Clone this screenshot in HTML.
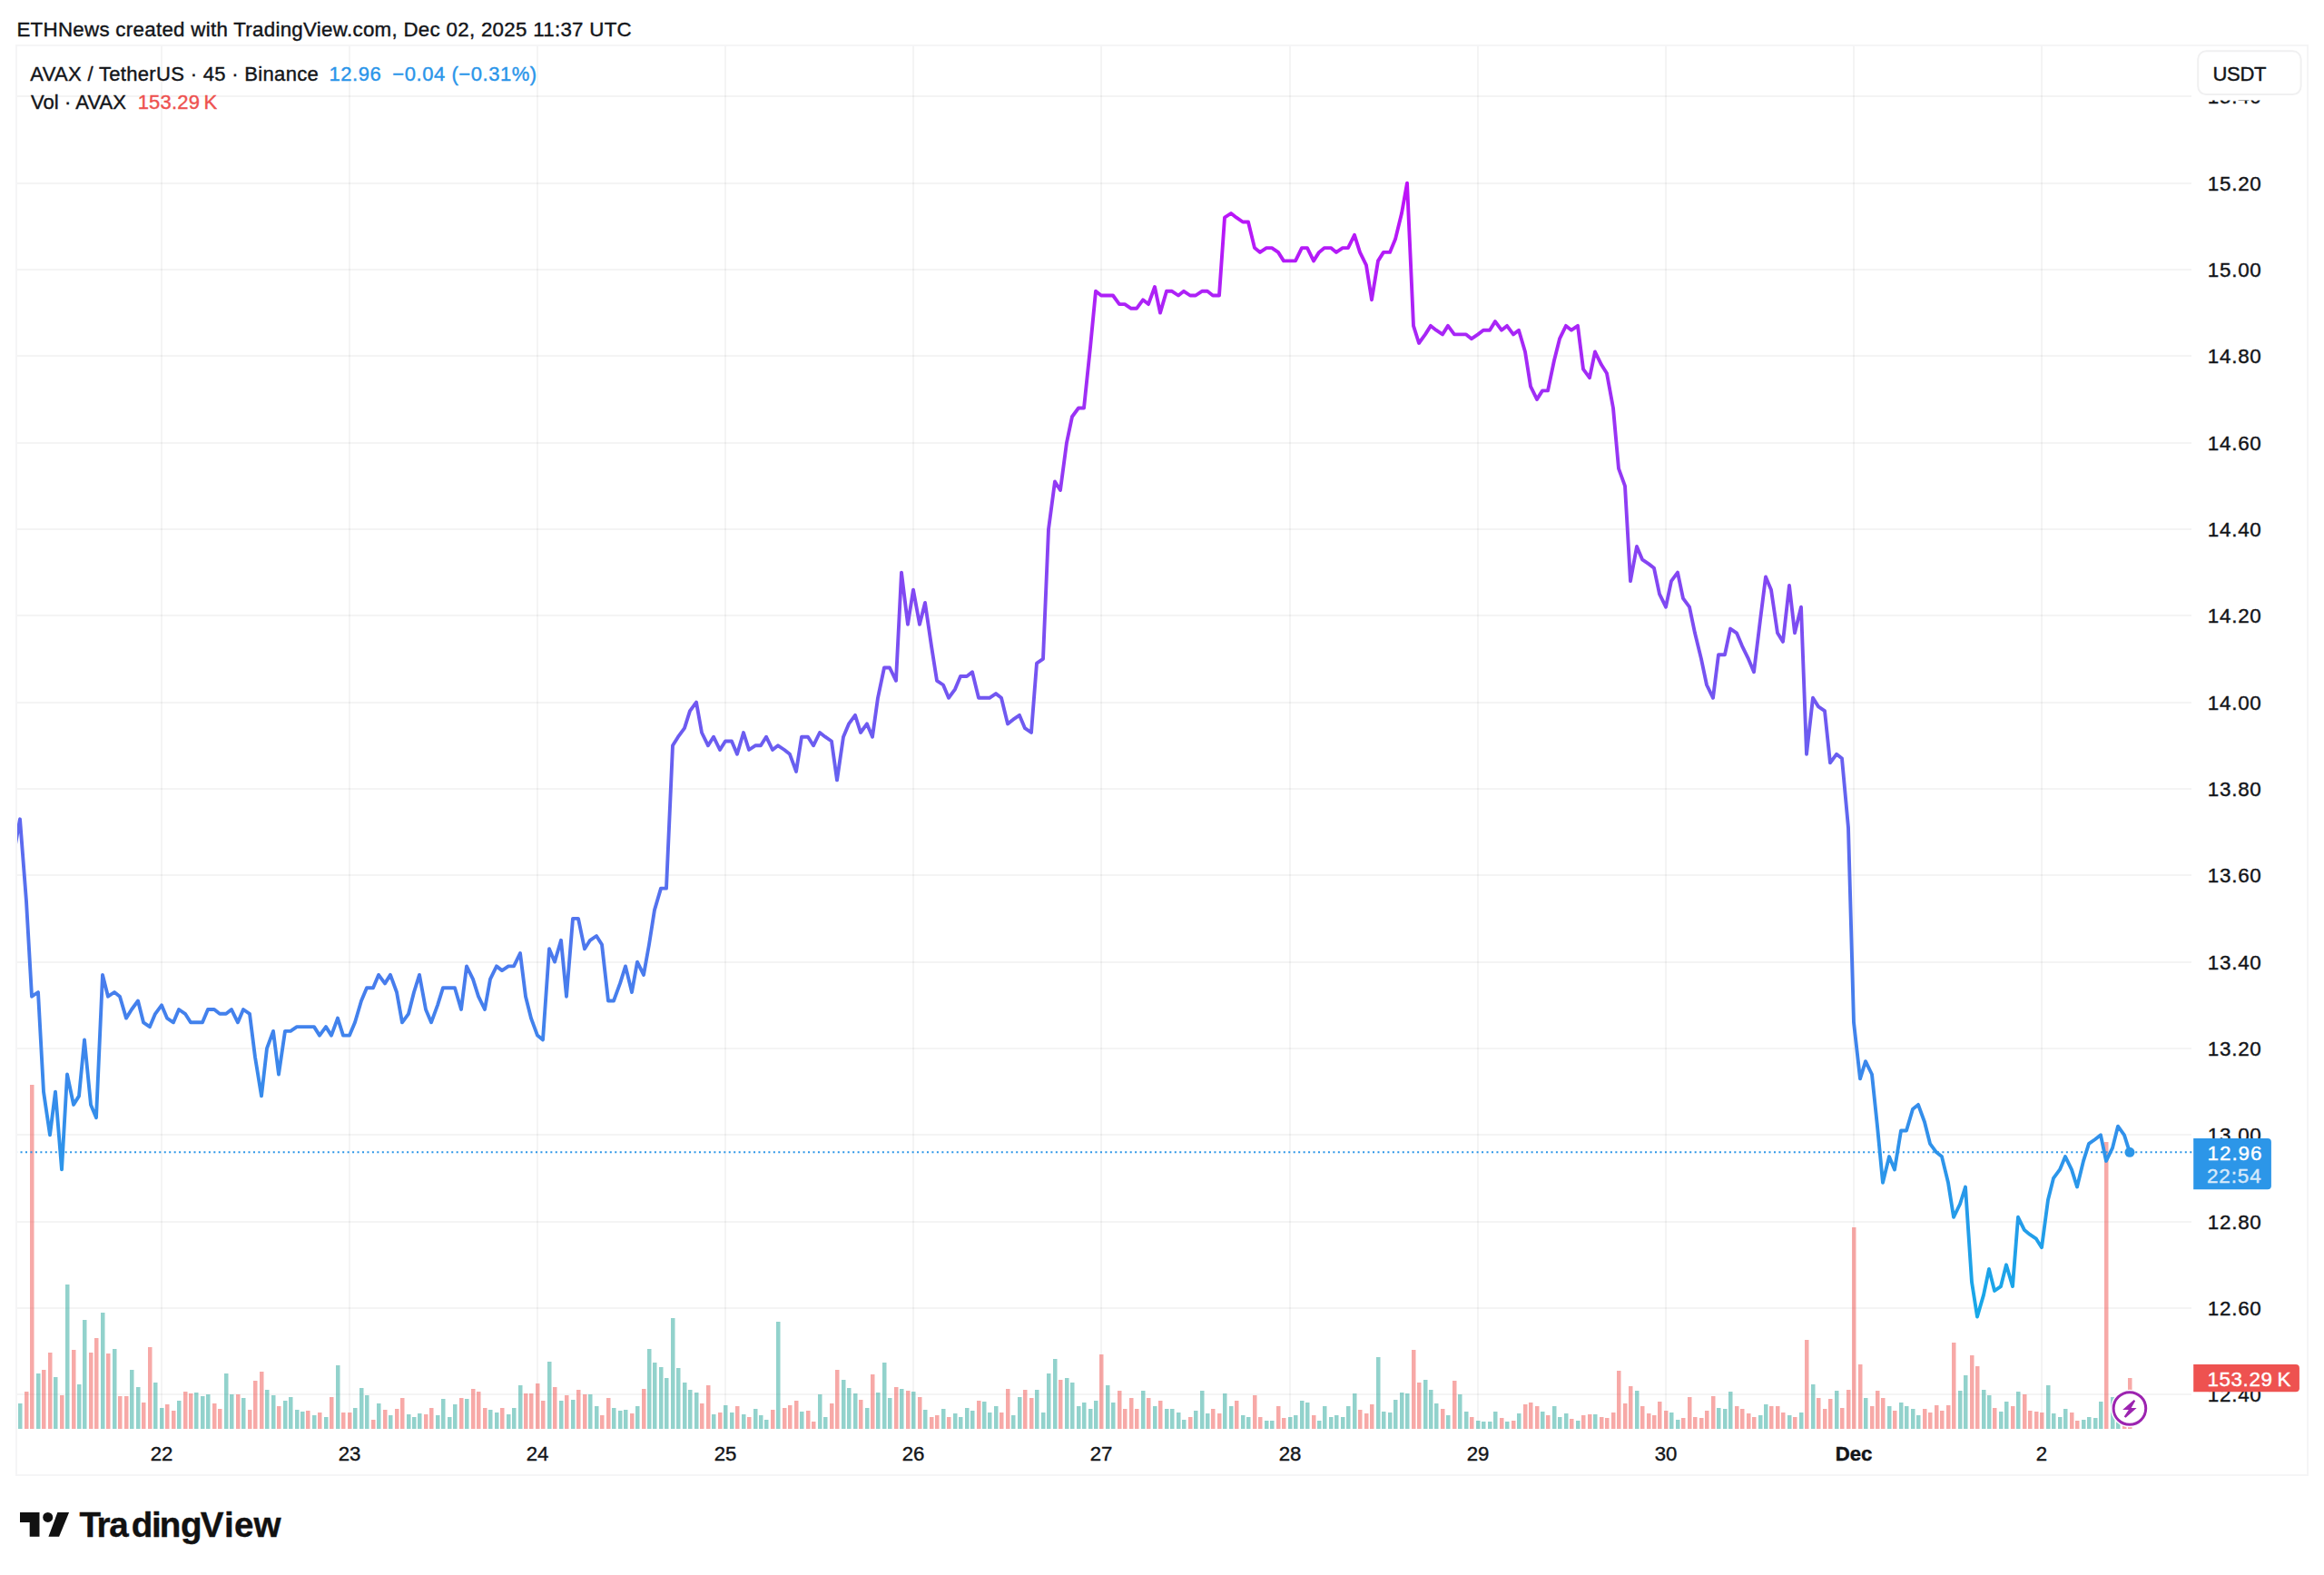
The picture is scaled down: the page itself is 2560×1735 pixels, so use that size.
<!DOCTYPE html>
<html lang="en"><head><meta charset="utf-8"><title>AVAX / TetherUS chart</title>
<style>html,body{margin:0;padding:0;background:#fff;}body{width:2560px;height:1735px;overflow:hidden;position:relative;}svg{position:absolute;left:0;top:0;display:block}text{font-family:"Liberation Sans", sans-serif;}</style>
</head><body>
<svg width="2560" height="1735" viewBox="0 0 2560 1735">
<defs>
<linearGradient id="lg" gradientUnits="userSpaceOnUse" x1="0" y1="201.6" x2="0" y2="1450.5"><stop offset="0" stop-color="#be12f8"/><stop offset="1" stop-color="#16a9e8"/></linearGradient>
<clipPath id="pane"><rect x="19" y="51" width="2395" height="1523.0"/></clipPath>
</defs>
<rect x="0" y="0" width="2560" height="1735" fill="#ffffff"/>
<g stroke="#000" stroke-opacity="0.043" stroke-width="2" shape-rendering="crispEdges">
<line x1="178" y1="51" x2="178" y2="1574"/>
<line x1="385" y1="51" x2="385" y2="1574"/>
<line x1="592" y1="51" x2="592" y2="1574"/>
<line x1="799" y1="51" x2="799" y2="1574"/>
<line x1="1006" y1="51" x2="1006" y2="1574"/>
<line x1="1213" y1="51" x2="1213" y2="1574"/>
<line x1="1421" y1="51" x2="1421" y2="1574"/>
<line x1="1628" y1="51" x2="1628" y2="1574"/>
<line x1="1835" y1="51" x2="1835" y2="1574"/>
<line x1="2042" y1="51" x2="2042" y2="1574"/>
<line x1="2249" y1="51" x2="2249" y2="1574"/>
<line x1="19" y1="106" x2="2414" y2="106"/>
<line x1="19" y1="202" x2="2414" y2="202"/>
<line x1="19" y1="297" x2="2414" y2="297"/>
<line x1="19" y1="392" x2="2414" y2="392"/>
<line x1="19" y1="488" x2="2414" y2="488"/>
<line x1="19" y1="583" x2="2414" y2="583"/>
<line x1="19" y1="678" x2="2414" y2="678"/>
<line x1="19" y1="774" x2="2414" y2="774"/>
<line x1="19" y1="869" x2="2414" y2="869"/>
<line x1="19" y1="964" x2="2414" y2="964"/>
<line x1="19" y1="1060" x2="2414" y2="1060"/>
<line x1="19" y1="1155" x2="2414" y2="1155"/>
<line x1="19" y1="1250" x2="2414" y2="1250"/>
<line x1="19" y1="1346" x2="2414" y2="1346"/>
<line x1="19" y1="1441" x2="2414" y2="1441"/>
<line x1="19" y1="1536" x2="2414" y2="1536"/>
</g>
<g clip-path="url(#pane)">
<rect x="20" y="1546.0" width="4.5" height="28.0" fill="rgba(38,166,154,0.5)"/>
<rect x="27" y="1533.0" width="4.5" height="41.0" fill="rgba(239,83,80,0.5)"/>
<rect x="33" y="1195.0" width="4.5" height="379.0" fill="rgba(239,83,80,0.5)"/>
<rect x="40" y="1513.0" width="4.5" height="61.0" fill="rgba(38,166,154,0.5)"/>
<rect x="46" y="1509.0" width="4.5" height="65.0" fill="rgba(239,83,80,0.5)"/>
<rect x="53" y="1490.0" width="4.5" height="84.0" fill="rgba(239,83,80,0.5)"/>
<rect x="59" y="1517.0" width="4.5" height="57.0" fill="rgba(38,166,154,0.5)"/>
<rect x="66" y="1537.0" width="4.5" height="37.0" fill="rgba(239,83,80,0.5)"/>
<rect x="72" y="1415.0" width="4.5" height="159.0" fill="rgba(38,166,154,0.5)"/>
<rect x="79" y="1487.0" width="4.5" height="87.0" fill="rgba(239,83,80,0.5)"/>
<rect x="85" y="1525.0" width="4.5" height="49.0" fill="rgba(38,166,154,0.5)"/>
<rect x="91" y="1454.0" width="4.5" height="120.0" fill="rgba(38,166,154,0.5)"/>
<rect x="98" y="1490.0" width="4.5" height="84.0" fill="rgba(239,83,80,0.5)"/>
<rect x="104" y="1474.0" width="4.5" height="100.0" fill="rgba(239,83,80,0.5)"/>
<rect x="111" y="1446.0" width="4.5" height="128.0" fill="rgba(38,166,154,0.5)"/>
<rect x="117" y="1491.0" width="4.5" height="83.0" fill="rgba(239,83,80,0.5)"/>
<rect x="124" y="1486.0" width="4.5" height="88.0" fill="rgba(38,166,154,0.5)"/>
<rect x="130" y="1538.0" width="4.5" height="36.0" fill="rgba(239,83,80,0.5)"/>
<rect x="137" y="1538.0" width="4.5" height="36.0" fill="rgba(239,83,80,0.5)"/>
<rect x="143" y="1509.0" width="4.5" height="65.0" fill="rgba(38,166,154,0.5)"/>
<rect x="150" y="1528.0" width="4.5" height="46.0" fill="rgba(38,166,154,0.5)"/>
<rect x="156" y="1545.0" width="4.5" height="29.0" fill="rgba(239,83,80,0.5)"/>
<rect x="163" y="1484.0" width="4.5" height="90.0" fill="rgba(239,83,80,0.5)"/>
<rect x="169" y="1523.0" width="4.5" height="51.0" fill="rgba(38,166,154,0.5)"/>
<rect x="176" y="1551.0" width="4.5" height="23.0" fill="rgba(38,166,154,0.5)"/>
<rect x="182" y="1547.0" width="4.5" height="27.0" fill="rgba(239,83,80,0.5)"/>
<rect x="189" y="1554.0" width="4.5" height="20.0" fill="rgba(239,83,80,0.5)"/>
<rect x="195" y="1543.0" width="4.5" height="31.0" fill="rgba(38,166,154,0.5)"/>
<rect x="202" y="1533.0" width="4.5" height="41.0" fill="rgba(239,83,80,0.5)"/>
<rect x="208" y="1535.0" width="4.5" height="39.0" fill="rgba(239,83,80,0.5)"/>
<rect x="214" y="1534.0" width="4.5" height="40.0" fill="rgba(38,166,154,0.5)"/>
<rect x="221" y="1538.0" width="4.5" height="36.0" fill="rgba(38,166,154,0.5)"/>
<rect x="227" y="1536.0" width="4.5" height="38.0" fill="rgba(38,166,154,0.5)"/>
<rect x="234" y="1546.0" width="4.5" height="28.0" fill="rgba(239,83,80,0.5)"/>
<rect x="240" y="1552.0" width="4.5" height="22.0" fill="rgba(239,83,80,0.5)"/>
<rect x="247" y="1513.0" width="4.5" height="61.0" fill="rgba(38,166,154,0.5)"/>
<rect x="253" y="1536.0" width="4.5" height="38.0" fill="rgba(38,166,154,0.5)"/>
<rect x="260" y="1536.0" width="4.5" height="38.0" fill="rgba(239,83,80,0.5)"/>
<rect x="266" y="1540.0" width="4.5" height="34.0" fill="rgba(38,166,154,0.5)"/>
<rect x="273" y="1553.0" width="4.5" height="21.0" fill="rgba(239,83,80,0.5)"/>
<rect x="279" y="1521.0" width="4.5" height="53.0" fill="rgba(239,83,80,0.5)"/>
<rect x="286" y="1511.0" width="4.5" height="63.0" fill="rgba(239,83,80,0.5)"/>
<rect x="292" y="1531.0" width="4.5" height="43.0" fill="rgba(38,166,154,0.5)"/>
<rect x="299" y="1537.0" width="4.5" height="37.0" fill="rgba(38,166,154,0.5)"/>
<rect x="305" y="1549.0" width="4.5" height="25.0" fill="rgba(239,83,80,0.5)"/>
<rect x="312" y="1543.0" width="4.5" height="31.0" fill="rgba(38,166,154,0.5)"/>
<rect x="318" y="1539.0" width="4.5" height="35.0" fill="rgba(38,166,154,0.5)"/>
<rect x="325" y="1553.0" width="4.5" height="21.0" fill="rgba(38,166,154,0.5)"/>
<rect x="331" y="1555.0" width="4.5" height="19.0" fill="rgba(38,166,154,0.5)"/>
<rect x="337" y="1554.0" width="4.5" height="20.0" fill="rgba(239,83,80,0.5)"/>
<rect x="344" y="1559.0" width="4.5" height="15.0" fill="rgba(38,166,154,0.5)"/>
<rect x="350" y="1556.0" width="4.5" height="18.0" fill="rgba(239,83,80,0.5)"/>
<rect x="357" y="1561.0" width="4.5" height="13.0" fill="rgba(38,166,154,0.5)"/>
<rect x="363" y="1539.0" width="4.5" height="35.0" fill="rgba(239,83,80,0.5)"/>
<rect x="370" y="1504.0" width="4.5" height="70.0" fill="rgba(38,166,154,0.5)"/>
<rect x="376" y="1556.0" width="4.5" height="18.0" fill="rgba(239,83,80,0.5)"/>
<rect x="383" y="1556.0" width="4.5" height="18.0" fill="rgba(239,83,80,0.5)"/>
<rect x="389" y="1551.0" width="4.5" height="23.0" fill="rgba(38,166,154,0.5)"/>
<rect x="396" y="1529.0" width="4.5" height="45.0" fill="rgba(38,166,154,0.5)"/>
<rect x="402" y="1537.0" width="4.5" height="37.0" fill="rgba(38,166,154,0.5)"/>
<rect x="409" y="1564.0" width="4.5" height="10.0" fill="rgba(239,83,80,0.5)"/>
<rect x="415" y="1546.0" width="4.5" height="28.0" fill="rgba(38,166,154,0.5)"/>
<rect x="422" y="1553.0" width="4.5" height="21.0" fill="rgba(239,83,80,0.5)"/>
<rect x="428" y="1559.0" width="4.5" height="15.0" fill="rgba(38,166,154,0.5)"/>
<rect x="435" y="1552.0" width="4.5" height="22.0" fill="rgba(239,83,80,0.5)"/>
<rect x="441" y="1540.0" width="4.5" height="34.0" fill="rgba(239,83,80,0.5)"/>
<rect x="448" y="1558.0" width="4.5" height="16.0" fill="rgba(38,166,154,0.5)"/>
<rect x="454" y="1561.0" width="4.5" height="13.0" fill="rgba(38,166,154,0.5)"/>
<rect x="460" y="1557.0" width="4.5" height="17.0" fill="rgba(38,166,154,0.5)"/>
<rect x="467" y="1558.0" width="4.5" height="16.0" fill="rgba(239,83,80,0.5)"/>
<rect x="473" y="1551.0" width="4.5" height="23.0" fill="rgba(239,83,80,0.5)"/>
<rect x="480" y="1559.0" width="4.5" height="15.0" fill="rgba(38,166,154,0.5)"/>
<rect x="486" y="1541.0" width="4.5" height="33.0" fill="rgba(38,166,154,0.5)"/>
<rect x="493" y="1561.0" width="4.5" height="13.0" fill="rgba(38,166,154,0.5)"/>
<rect x="499" y="1547.0" width="4.5" height="27.0" fill="rgba(38,166,154,0.5)"/>
<rect x="506" y="1540.0" width="4.5" height="34.0" fill="rgba(239,83,80,0.5)"/>
<rect x="512" y="1541.0" width="4.5" height="33.0" fill="rgba(38,166,154,0.5)"/>
<rect x="519" y="1530.0" width="4.5" height="44.0" fill="rgba(239,83,80,0.5)"/>
<rect x="525" y="1533.0" width="4.5" height="41.0" fill="rgba(239,83,80,0.5)"/>
<rect x="532" y="1551.0" width="4.5" height="23.0" fill="rgba(239,83,80,0.5)"/>
<rect x="538" y="1553.0" width="4.5" height="21.0" fill="rgba(38,166,154,0.5)"/>
<rect x="545" y="1556.0" width="4.5" height="18.0" fill="rgba(38,166,154,0.5)"/>
<rect x="551" y="1551.0" width="4.5" height="23.0" fill="rgba(239,83,80,0.5)"/>
<rect x="558" y="1558.0" width="4.5" height="16.0" fill="rgba(38,166,154,0.5)"/>
<rect x="564" y="1551.0" width="4.5" height="23.0" fill="rgba(38,166,154,0.5)"/>
<rect x="571" y="1526.0" width="4.5" height="48.0" fill="rgba(38,166,154,0.5)"/>
<rect x="577" y="1535.0" width="4.5" height="39.0" fill="rgba(239,83,80,0.5)"/>
<rect x="583" y="1535.0" width="4.5" height="39.0" fill="rgba(239,83,80,0.5)"/>
<rect x="590" y="1524.0" width="4.5" height="50.0" fill="rgba(239,83,80,0.5)"/>
<rect x="596" y="1543.0" width="4.5" height="31.0" fill="rgba(239,83,80,0.5)"/>
<rect x="603" y="1500.0" width="4.5" height="74.0" fill="rgba(38,166,154,0.5)"/>
<rect x="609" y="1528.0" width="4.5" height="46.0" fill="rgba(239,83,80,0.5)"/>
<rect x="616" y="1543.0" width="4.5" height="31.0" fill="rgba(38,166,154,0.5)"/>
<rect x="622" y="1537.0" width="4.5" height="37.0" fill="rgba(239,83,80,0.5)"/>
<rect x="629" y="1542.0" width="4.5" height="32.0" fill="rgba(38,166,154,0.5)"/>
<rect x="635" y="1531.0" width="4.5" height="43.0" fill="rgba(239,83,80,0.5)"/>
<rect x="642" y="1536.0" width="4.5" height="38.0" fill="rgba(239,83,80,0.5)"/>
<rect x="648" y="1536.0" width="4.5" height="38.0" fill="rgba(38,166,154,0.5)"/>
<rect x="655" y="1549.0" width="4.5" height="25.0" fill="rgba(38,166,154,0.5)"/>
<rect x="661" y="1559.0" width="4.5" height="15.0" fill="rgba(239,83,80,0.5)"/>
<rect x="668" y="1540.0" width="4.5" height="34.0" fill="rgba(239,83,80,0.5)"/>
<rect x="674" y="1551.0" width="4.5" height="23.0" fill="rgba(38,166,154,0.5)"/>
<rect x="681" y="1554.0" width="4.5" height="20.0" fill="rgba(38,166,154,0.5)"/>
<rect x="687" y="1553.0" width="4.5" height="21.0" fill="rgba(38,166,154,0.5)"/>
<rect x="694" y="1557.0" width="4.5" height="17.0" fill="rgba(239,83,80,0.5)"/>
<rect x="700" y="1549.0" width="4.5" height="25.0" fill="rgba(38,166,154,0.5)"/>
<rect x="707" y="1530.0" width="4.5" height="44.0" fill="rgba(239,83,80,0.5)"/>
<rect x="713" y="1486.0" width="4.5" height="88.0" fill="rgba(38,166,154,0.5)"/>
<rect x="719" y="1501.0" width="4.5" height="73.0" fill="rgba(38,166,154,0.5)"/>
<rect x="726" y="1506.0" width="4.5" height="68.0" fill="rgba(38,166,154,0.5)"/>
<rect x="732" y="1518.0" width="4.5" height="56.0" fill="rgba(38,166,154,0.5)"/>
<rect x="739" y="1452.0" width="4.5" height="122.0" fill="rgba(38,166,154,0.5)"/>
<rect x="745" y="1507.0" width="4.5" height="67.0" fill="rgba(38,166,154,0.5)"/>
<rect x="752" y="1523.0" width="4.5" height="51.0" fill="rgba(38,166,154,0.5)"/>
<rect x="758" y="1531.0" width="4.5" height="43.0" fill="rgba(38,166,154,0.5)"/>
<rect x="765" y="1534.0" width="4.5" height="40.0" fill="rgba(38,166,154,0.5)"/>
<rect x="771" y="1546.0" width="4.5" height="28.0" fill="rgba(239,83,80,0.5)"/>
<rect x="778" y="1526.0" width="4.5" height="48.0" fill="rgba(239,83,80,0.5)"/>
<rect x="784" y="1558.0" width="4.5" height="16.0" fill="rgba(38,166,154,0.5)"/>
<rect x="791" y="1556.0" width="4.5" height="18.0" fill="rgba(239,83,80,0.5)"/>
<rect x="797" y="1548.0" width="4.5" height="26.0" fill="rgba(38,166,154,0.5)"/>
<rect x="804" y="1556.0" width="4.5" height="18.0" fill="rgba(38,166,154,0.5)"/>
<rect x="810" y="1549.0" width="4.5" height="25.0" fill="rgba(239,83,80,0.5)"/>
<rect x="817" y="1558.0" width="4.5" height="16.0" fill="rgba(38,166,154,0.5)"/>
<rect x="823" y="1561.0" width="4.5" height="13.0" fill="rgba(239,83,80,0.5)"/>
<rect x="830" y="1552.0" width="4.5" height="22.0" fill="rgba(38,166,154,0.5)"/>
<rect x="836" y="1559.0" width="4.5" height="15.0" fill="rgba(38,166,154,0.5)"/>
<rect x="842" y="1564.0" width="4.5" height="10.0" fill="rgba(38,166,154,0.5)"/>
<rect x="849" y="1553.0" width="4.5" height="21.0" fill="rgba(239,83,80,0.5)"/>
<rect x="855" y="1456.0" width="4.5" height="118.0" fill="rgba(38,166,154,0.5)"/>
<rect x="862" y="1551.0" width="4.5" height="23.0" fill="rgba(239,83,80,0.5)"/>
<rect x="868" y="1548.0" width="4.5" height="26.0" fill="rgba(239,83,80,0.5)"/>
<rect x="875" y="1543.0" width="4.5" height="31.0" fill="rgba(239,83,80,0.5)"/>
<rect x="881" y="1555.0" width="4.5" height="19.0" fill="rgba(38,166,154,0.5)"/>
<rect x="888" y="1554.0" width="4.5" height="20.0" fill="rgba(239,83,80,0.5)"/>
<rect x="894" y="1566.0" width="4.5" height="8.0" fill="rgba(239,83,80,0.5)"/>
<rect x="901" y="1536.0" width="4.5" height="38.0" fill="rgba(38,166,154,0.5)"/>
<rect x="907" y="1561.0" width="4.5" height="13.0" fill="rgba(38,166,154,0.5)"/>
<rect x="914" y="1546.0" width="4.5" height="28.0" fill="rgba(239,83,80,0.5)"/>
<rect x="920" y="1509.0" width="4.5" height="65.0" fill="rgba(239,83,80,0.5)"/>
<rect x="927" y="1520.0" width="4.5" height="54.0" fill="rgba(38,166,154,0.5)"/>
<rect x="933" y="1529.0" width="4.5" height="45.0" fill="rgba(38,166,154,0.5)"/>
<rect x="940" y="1535.0" width="4.5" height="39.0" fill="rgba(38,166,154,0.5)"/>
<rect x="946" y="1542.0" width="4.5" height="32.0" fill="rgba(239,83,80,0.5)"/>
<rect x="953" y="1551.0" width="4.5" height="23.0" fill="rgba(38,166,154,0.5)"/>
<rect x="959" y="1514.0" width="4.5" height="60.0" fill="rgba(239,83,80,0.5)"/>
<rect x="965" y="1534.0" width="4.5" height="40.0" fill="rgba(38,166,154,0.5)"/>
<rect x="972" y="1501.0" width="4.5" height="73.0" fill="rgba(38,166,154,0.5)"/>
<rect x="978" y="1540.0" width="4.5" height="34.0" fill="rgba(38,166,154,0.5)"/>
<rect x="985" y="1528.0" width="4.5" height="46.0" fill="rgba(239,83,80,0.5)"/>
<rect x="991" y="1530.0" width="4.5" height="44.0" fill="rgba(38,166,154,0.5)"/>
<rect x="998" y="1532.0" width="4.5" height="42.0" fill="rgba(239,83,80,0.5)"/>
<rect x="1004" y="1533.0" width="4.5" height="41.0" fill="rgba(38,166,154,0.5)"/>
<rect x="1011" y="1539.0" width="4.5" height="35.0" fill="rgba(239,83,80,0.5)"/>
<rect x="1017" y="1553.0" width="4.5" height="21.0" fill="rgba(38,166,154,0.5)"/>
<rect x="1024" y="1561.0" width="4.5" height="13.0" fill="rgba(239,83,80,0.5)"/>
<rect x="1030" y="1559.0" width="4.5" height="15.0" fill="rgba(239,83,80,0.5)"/>
<rect x="1037" y="1552.0" width="4.5" height="22.0" fill="rgba(38,166,154,0.5)"/>
<rect x="1043" y="1561.0" width="4.5" height="13.0" fill="rgba(239,83,80,0.5)"/>
<rect x="1050" y="1557.0" width="4.5" height="17.0" fill="rgba(38,166,154,0.5)"/>
<rect x="1056" y="1561.0" width="4.5" height="13.0" fill="rgba(38,166,154,0.5)"/>
<rect x="1063" y="1551.0" width="4.5" height="23.0" fill="rgba(38,166,154,0.5)"/>
<rect x="1069" y="1554.0" width="4.5" height="20.0" fill="rgba(38,166,154,0.5)"/>
<rect x="1076" y="1543.0" width="4.5" height="31.0" fill="rgba(239,83,80,0.5)"/>
<rect x="1082" y="1544.0" width="4.5" height="30.0" fill="rgba(38,166,154,0.5)"/>
<rect x="1088" y="1556.0" width="4.5" height="18.0" fill="rgba(38,166,154,0.5)"/>
<rect x="1095" y="1549.0" width="4.5" height="25.0" fill="rgba(38,166,154,0.5)"/>
<rect x="1101" y="1556.0" width="4.5" height="18.0" fill="rgba(239,83,80,0.5)"/>
<rect x="1108" y="1530.0" width="4.5" height="44.0" fill="rgba(239,83,80,0.5)"/>
<rect x="1114" y="1559.0" width="4.5" height="15.0" fill="rgba(38,166,154,0.5)"/>
<rect x="1121" y="1539.0" width="4.5" height="35.0" fill="rgba(38,166,154,0.5)"/>
<rect x="1127" y="1531.0" width="4.5" height="43.0" fill="rgba(239,83,80,0.5)"/>
<rect x="1134" y="1540.0" width="4.5" height="34.0" fill="rgba(239,83,80,0.5)"/>
<rect x="1140" y="1531.0" width="4.5" height="43.0" fill="rgba(38,166,154,0.5)"/>
<rect x="1147" y="1556.0" width="4.5" height="18.0" fill="rgba(38,166,154,0.5)"/>
<rect x="1153" y="1513.0" width="4.5" height="61.0" fill="rgba(38,166,154,0.5)"/>
<rect x="1160" y="1497.0" width="4.5" height="77.0" fill="rgba(38,166,154,0.5)"/>
<rect x="1166" y="1520.0" width="4.5" height="54.0" fill="rgba(239,83,80,0.5)"/>
<rect x="1173" y="1518.0" width="4.5" height="56.0" fill="rgba(38,166,154,0.5)"/>
<rect x="1179" y="1523.0" width="4.5" height="51.0" fill="rgba(38,166,154,0.5)"/>
<rect x="1186" y="1549.0" width="4.5" height="25.0" fill="rgba(38,166,154,0.5)"/>
<rect x="1192" y="1545.0" width="4.5" height="29.0" fill="rgba(38,166,154,0.5)"/>
<rect x="1199" y="1552.0" width="4.5" height="22.0" fill="rgba(38,166,154,0.5)"/>
<rect x="1205" y="1543.0" width="4.5" height="31.0" fill="rgba(38,166,154,0.5)"/>
<rect x="1211" y="1492.0" width="4.5" height="82.0" fill="rgba(239,83,80,0.5)"/>
<rect x="1218" y="1526.0" width="4.5" height="48.0" fill="rgba(38,166,154,0.5)"/>
<rect x="1224" y="1545.0" width="4.5" height="29.0" fill="rgba(38,166,154,0.5)"/>
<rect x="1231" y="1532.0" width="4.5" height="42.0" fill="rgba(239,83,80,0.5)"/>
<rect x="1237" y="1552.0" width="4.5" height="22.0" fill="rgba(239,83,80,0.5)"/>
<rect x="1244" y="1540.0" width="4.5" height="34.0" fill="rgba(239,83,80,0.5)"/>
<rect x="1250" y="1552.0" width="4.5" height="22.0" fill="rgba(239,83,80,0.5)"/>
<rect x="1257" y="1532.0" width="4.5" height="42.0" fill="rgba(38,166,154,0.5)"/>
<rect x="1263" y="1540.0" width="4.5" height="34.0" fill="rgba(239,83,80,0.5)"/>
<rect x="1270" y="1549.0" width="4.5" height="25.0" fill="rgba(38,166,154,0.5)"/>
<rect x="1276" y="1543.0" width="4.5" height="31.0" fill="rgba(239,83,80,0.5)"/>
<rect x="1283" y="1552.0" width="4.5" height="22.0" fill="rgba(38,166,154,0.5)"/>
<rect x="1289" y="1552.0" width="4.5" height="22.0" fill="rgba(38,166,154,0.5)"/>
<rect x="1296" y="1556.0" width="4.5" height="18.0" fill="rgba(38,166,154,0.5)"/>
<rect x="1302" y="1564.0" width="4.5" height="10.0" fill="rgba(38,166,154,0.5)"/>
<rect x="1309" y="1561.0" width="4.5" height="13.0" fill="rgba(239,83,80,0.5)"/>
<rect x="1315" y="1554.0" width="4.5" height="20.0" fill="rgba(38,166,154,0.5)"/>
<rect x="1322" y="1532.0" width="4.5" height="42.0" fill="rgba(38,166,154,0.5)"/>
<rect x="1328" y="1557.0" width="4.5" height="17.0" fill="rgba(38,166,154,0.5)"/>
<rect x="1334" y="1552.0" width="4.5" height="22.0" fill="rgba(239,83,80,0.5)"/>
<rect x="1341" y="1557.0" width="4.5" height="17.0" fill="rgba(239,83,80,0.5)"/>
<rect x="1347" y="1535.0" width="4.5" height="39.0" fill="rgba(38,166,154,0.5)"/>
<rect x="1354" y="1549.0" width="4.5" height="25.0" fill="rgba(38,166,154,0.5)"/>
<rect x="1360" y="1543.0" width="4.5" height="31.0" fill="rgba(239,83,80,0.5)"/>
<rect x="1367" y="1559.0" width="4.5" height="15.0" fill="rgba(38,166,154,0.5)"/>
<rect x="1373" y="1561.0" width="4.5" height="13.0" fill="rgba(38,166,154,0.5)"/>
<rect x="1380" y="1537.0" width="4.5" height="37.0" fill="rgba(239,83,80,0.5)"/>
<rect x="1386" y="1561.0" width="4.5" height="13.0" fill="rgba(239,83,80,0.5)"/>
<rect x="1393" y="1565.0" width="4.5" height="9.0" fill="rgba(38,166,154,0.5)"/>
<rect x="1399" y="1565.0" width="4.5" height="9.0" fill="rgba(38,166,154,0.5)"/>
<rect x="1406" y="1549.0" width="4.5" height="25.0" fill="rgba(239,83,80,0.5)"/>
<rect x="1412" y="1562.0" width="4.5" height="12.0" fill="rgba(239,83,80,0.5)"/>
<rect x="1419" y="1561.0" width="4.5" height="13.0" fill="rgba(38,166,154,0.5)"/>
<rect x="1425" y="1559.0" width="4.5" height="15.0" fill="rgba(38,166,154,0.5)"/>
<rect x="1432" y="1543.0" width="4.5" height="31.0" fill="rgba(38,166,154,0.5)"/>
<rect x="1438" y="1545.0" width="4.5" height="29.0" fill="rgba(38,166,154,0.5)"/>
<rect x="1445" y="1559.0" width="4.5" height="15.0" fill="rgba(239,83,80,0.5)"/>
<rect x="1451" y="1565.0" width="4.5" height="9.0" fill="rgba(38,166,154,0.5)"/>
<rect x="1457" y="1549.0" width="4.5" height="25.0" fill="rgba(38,166,154,0.5)"/>
<rect x="1464" y="1561.0" width="4.5" height="13.0" fill="rgba(38,166,154,0.5)"/>
<rect x="1470" y="1559.0" width="4.5" height="15.0" fill="rgba(38,166,154,0.5)"/>
<rect x="1477" y="1561.0" width="4.5" height="13.0" fill="rgba(38,166,154,0.5)"/>
<rect x="1483" y="1549.0" width="4.5" height="25.0" fill="rgba(38,166,154,0.5)"/>
<rect x="1490" y="1535.0" width="4.5" height="39.0" fill="rgba(38,166,154,0.5)"/>
<rect x="1496" y="1553.0" width="4.5" height="21.0" fill="rgba(239,83,80,0.5)"/>
<rect x="1503" y="1557.0" width="4.5" height="17.0" fill="rgba(239,83,80,0.5)"/>
<rect x="1509" y="1547.0" width="4.5" height="27.0" fill="rgba(239,83,80,0.5)"/>
<rect x="1516" y="1495.0" width="4.5" height="79.0" fill="rgba(38,166,154,0.5)"/>
<rect x="1522" y="1555.0" width="4.5" height="19.0" fill="rgba(38,166,154,0.5)"/>
<rect x="1529" y="1556.0" width="4.5" height="18.0" fill="rgba(38,166,154,0.5)"/>
<rect x="1535" y="1542.0" width="4.5" height="32.0" fill="rgba(38,166,154,0.5)"/>
<rect x="1542" y="1534.0" width="4.5" height="40.0" fill="rgba(38,166,154,0.5)"/>
<rect x="1548" y="1535.0" width="4.5" height="39.0" fill="rgba(38,166,154,0.5)"/>
<rect x="1555" y="1487.0" width="4.5" height="87.0" fill="rgba(239,83,80,0.5)"/>
<rect x="1561" y="1523.0" width="4.5" height="51.0" fill="rgba(239,83,80,0.5)"/>
<rect x="1568" y="1520.0" width="4.5" height="54.0" fill="rgba(38,166,154,0.5)"/>
<rect x="1574" y="1531.0" width="4.5" height="43.0" fill="rgba(38,166,154,0.5)"/>
<rect x="1580" y="1546.0" width="4.5" height="28.0" fill="rgba(38,166,154,0.5)"/>
<rect x="1587" y="1552.0" width="4.5" height="22.0" fill="rgba(239,83,80,0.5)"/>
<rect x="1593" y="1559.0" width="4.5" height="15.0" fill="rgba(38,166,154,0.5)"/>
<rect x="1600" y="1521.0" width="4.5" height="53.0" fill="rgba(239,83,80,0.5)"/>
<rect x="1606" y="1536.0" width="4.5" height="38.0" fill="rgba(38,166,154,0.5)"/>
<rect x="1613" y="1555.0" width="4.5" height="19.0" fill="rgba(38,166,154,0.5)"/>
<rect x="1619" y="1561.0" width="4.5" height="13.0" fill="rgba(239,83,80,0.5)"/>
<rect x="1626" y="1565.0" width="4.5" height="9.0" fill="rgba(38,166,154,0.5)"/>
<rect x="1632" y="1566.0" width="4.5" height="8.0" fill="rgba(38,166,154,0.5)"/>
<rect x="1639" y="1566.0" width="4.5" height="8.0" fill="rgba(38,166,154,0.5)"/>
<rect x="1645" y="1555.0" width="4.5" height="19.0" fill="rgba(38,166,154,0.5)"/>
<rect x="1652" y="1562.0" width="4.5" height="12.0" fill="rgba(239,83,80,0.5)"/>
<rect x="1658" y="1566.0" width="4.5" height="8.0" fill="rgba(38,166,154,0.5)"/>
<rect x="1665" y="1565.0" width="4.5" height="9.0" fill="rgba(239,83,80,0.5)"/>
<rect x="1671" y="1557.0" width="4.5" height="17.0" fill="rgba(38,166,154,0.5)"/>
<rect x="1678" y="1547.0" width="4.5" height="27.0" fill="rgba(239,83,80,0.5)"/>
<rect x="1684" y="1545.0" width="4.5" height="29.0" fill="rgba(239,83,80,0.5)"/>
<rect x="1691" y="1549.0" width="4.5" height="25.0" fill="rgba(239,83,80,0.5)"/>
<rect x="1697" y="1555.0" width="4.5" height="19.0" fill="rgba(38,166,154,0.5)"/>
<rect x="1703" y="1559.0" width="4.5" height="15.0" fill="rgba(239,83,80,0.5)"/>
<rect x="1710" y="1549.0" width="4.5" height="25.0" fill="rgba(38,166,154,0.5)"/>
<rect x="1716" y="1561.0" width="4.5" height="13.0" fill="rgba(38,166,154,0.5)"/>
<rect x="1723" y="1557.0" width="4.5" height="17.0" fill="rgba(38,166,154,0.5)"/>
<rect x="1729" y="1563.0" width="4.5" height="11.0" fill="rgba(239,83,80,0.5)"/>
<rect x="1736" y="1565.0" width="4.5" height="9.0" fill="rgba(38,166,154,0.5)"/>
<rect x="1742" y="1559.0" width="4.5" height="15.0" fill="rgba(239,83,80,0.5)"/>
<rect x="1749" y="1558.0" width="4.5" height="16.0" fill="rgba(239,83,80,0.5)"/>
<rect x="1755" y="1558.0" width="4.5" height="16.0" fill="rgba(38,166,154,0.5)"/>
<rect x="1762" y="1561.0" width="4.5" height="13.0" fill="rgba(239,83,80,0.5)"/>
<rect x="1768" y="1562.0" width="4.5" height="12.0" fill="rgba(239,83,80,0.5)"/>
<rect x="1775" y="1556.0" width="4.5" height="18.0" fill="rgba(239,83,80,0.5)"/>
<rect x="1781" y="1510.0" width="4.5" height="64.0" fill="rgba(239,83,80,0.5)"/>
<rect x="1788" y="1546.0" width="4.5" height="28.0" fill="rgba(239,83,80,0.5)"/>
<rect x="1794" y="1527.0" width="4.5" height="47.0" fill="rgba(239,83,80,0.5)"/>
<rect x="1801" y="1532.0" width="4.5" height="42.0" fill="rgba(38,166,154,0.5)"/>
<rect x="1807" y="1549.0" width="4.5" height="25.0" fill="rgba(239,83,80,0.5)"/>
<rect x="1814" y="1557.0" width="4.5" height="17.0" fill="rgba(239,83,80,0.5)"/>
<rect x="1820" y="1559.0" width="4.5" height="15.0" fill="rgba(239,83,80,0.5)"/>
<rect x="1826" y="1544.0" width="4.5" height="30.0" fill="rgba(239,83,80,0.5)"/>
<rect x="1833" y="1554.0" width="4.5" height="20.0" fill="rgba(239,83,80,0.5)"/>
<rect x="1839" y="1556.0" width="4.5" height="18.0" fill="rgba(38,166,154,0.5)"/>
<rect x="1846" y="1564.0" width="4.5" height="10.0" fill="rgba(38,166,154,0.5)"/>
<rect x="1852" y="1562.0" width="4.5" height="12.0" fill="rgba(239,83,80,0.5)"/>
<rect x="1859" y="1539.0" width="4.5" height="35.0" fill="rgba(239,83,80,0.5)"/>
<rect x="1865" y="1561.0" width="4.5" height="13.0" fill="rgba(239,83,80,0.5)"/>
<rect x="1872" y="1562.0" width="4.5" height="12.0" fill="rgba(239,83,80,0.5)"/>
<rect x="1878" y="1554.0" width="4.5" height="20.0" fill="rgba(239,83,80,0.5)"/>
<rect x="1885" y="1538.0" width="4.5" height="36.0" fill="rgba(239,83,80,0.5)"/>
<rect x="1891" y="1551.0" width="4.5" height="23.0" fill="rgba(38,166,154,0.5)"/>
<rect x="1898" y="1552.0" width="4.5" height="22.0" fill="rgba(38,166,154,0.5)"/>
<rect x="1904" y="1533.0" width="4.5" height="41.0" fill="rgba(38,166,154,0.5)"/>
<rect x="1911" y="1549.0" width="4.5" height="25.0" fill="rgba(239,83,80,0.5)"/>
<rect x="1917" y="1552.0" width="4.5" height="22.0" fill="rgba(239,83,80,0.5)"/>
<rect x="1924" y="1557.0" width="4.5" height="17.0" fill="rgba(239,83,80,0.5)"/>
<rect x="1930" y="1561.0" width="4.5" height="13.0" fill="rgba(239,83,80,0.5)"/>
<rect x="1937" y="1559.0" width="4.5" height="15.0" fill="rgba(38,166,154,0.5)"/>
<rect x="1943" y="1547.0" width="4.5" height="27.0" fill="rgba(38,166,154,0.5)"/>
<rect x="1949" y="1549.0" width="4.5" height="25.0" fill="rgba(239,83,80,0.5)"/>
<rect x="1956" y="1549.0" width="4.5" height="25.0" fill="rgba(239,83,80,0.5)"/>
<rect x="1962" y="1556.0" width="4.5" height="18.0" fill="rgba(239,83,80,0.5)"/>
<rect x="1969" y="1559.0" width="4.5" height="15.0" fill="rgba(38,166,154,0.5)"/>
<rect x="1975" y="1561.0" width="4.5" height="13.0" fill="rgba(239,83,80,0.5)"/>
<rect x="1982" y="1556.0" width="4.5" height="18.0" fill="rgba(38,166,154,0.5)"/>
<rect x="1988" y="1476.0" width="4.5" height="98.0" fill="rgba(239,83,80,0.5)"/>
<rect x="1995" y="1525.0" width="4.5" height="49.0" fill="rgba(38,166,154,0.5)"/>
<rect x="2001" y="1540.0" width="4.5" height="34.0" fill="rgba(239,83,80,0.5)"/>
<rect x="2008" y="1552.0" width="4.5" height="22.0" fill="rgba(239,83,80,0.5)"/>
<rect x="2014" y="1541.0" width="4.5" height="33.0" fill="rgba(239,83,80,0.5)"/>
<rect x="2021" y="1532.0" width="4.5" height="42.0" fill="rgba(38,166,154,0.5)"/>
<rect x="2027" y="1551.0" width="4.5" height="23.0" fill="rgba(239,83,80,0.5)"/>
<rect x="2034" y="1531.0" width="4.5" height="43.0" fill="rgba(239,83,80,0.5)"/>
<rect x="2040" y="1352.0" width="4.5" height="222.0" fill="rgba(239,83,80,0.5)"/>
<rect x="2047" y="1503.0" width="4.5" height="71.0" fill="rgba(239,83,80,0.5)"/>
<rect x="2053" y="1540.0" width="4.5" height="34.0" fill="rgba(38,166,154,0.5)"/>
<rect x="2060" y="1549.0" width="4.5" height="25.0" fill="rgba(239,83,80,0.5)"/>
<rect x="2066" y="1532.0" width="4.5" height="42.0" fill="rgba(239,83,80,0.5)"/>
<rect x="2072" y="1540.0" width="4.5" height="34.0" fill="rgba(239,83,80,0.5)"/>
<rect x="2079" y="1549.0" width="4.5" height="25.0" fill="rgba(38,166,154,0.5)"/>
<rect x="2085" y="1554.0" width="4.5" height="20.0" fill="rgba(239,83,80,0.5)"/>
<rect x="2092" y="1545.0" width="4.5" height="29.0" fill="rgba(38,166,154,0.5)"/>
<rect x="2098" y="1549.0" width="4.5" height="25.0" fill="rgba(38,166,154,0.5)"/>
<rect x="2105" y="1552.0" width="4.5" height="22.0" fill="rgba(38,166,154,0.5)"/>
<rect x="2111" y="1559.0" width="4.5" height="15.0" fill="rgba(38,166,154,0.5)"/>
<rect x="2118" y="1552.0" width="4.5" height="22.0" fill="rgba(239,83,80,0.5)"/>
<rect x="2124" y="1556.0" width="4.5" height="18.0" fill="rgba(239,83,80,0.5)"/>
<rect x="2131" y="1548.0" width="4.5" height="26.0" fill="rgba(239,83,80,0.5)"/>
<rect x="2137" y="1554.0" width="4.5" height="20.0" fill="rgba(239,83,80,0.5)"/>
<rect x="2144" y="1548.0" width="4.5" height="26.0" fill="rgba(239,83,80,0.5)"/>
<rect x="2150" y="1479.0" width="4.5" height="95.0" fill="rgba(239,83,80,0.5)"/>
<rect x="2157" y="1532.0" width="4.5" height="42.0" fill="rgba(38,166,154,0.5)"/>
<rect x="2163" y="1515.0" width="4.5" height="59.0" fill="rgba(38,166,154,0.5)"/>
<rect x="2170" y="1493.0" width="4.5" height="81.0" fill="rgba(239,83,80,0.5)"/>
<rect x="2176" y="1505.0" width="4.5" height="69.0" fill="rgba(239,83,80,0.5)"/>
<rect x="2183" y="1531.0" width="4.5" height="43.0" fill="rgba(38,166,154,0.5)"/>
<rect x="2189" y="1537.0" width="4.5" height="37.0" fill="rgba(38,166,154,0.5)"/>
<rect x="2195" y="1551.0" width="4.5" height="23.0" fill="rgba(239,83,80,0.5)"/>
<rect x="2202" y="1555.0" width="4.5" height="19.0" fill="rgba(38,166,154,0.5)"/>
<rect x="2208" y="1544.0" width="4.5" height="30.0" fill="rgba(38,166,154,0.5)"/>
<rect x="2215" y="1549.0" width="4.5" height="25.0" fill="rgba(239,83,80,0.5)"/>
<rect x="2221" y="1533.0" width="4.5" height="41.0" fill="rgba(38,166,154,0.5)"/>
<rect x="2228" y="1536.0" width="4.5" height="38.0" fill="rgba(239,83,80,0.5)"/>
<rect x="2234" y="1554.0" width="4.5" height="20.0" fill="rgba(239,83,80,0.5)"/>
<rect x="2241" y="1555.0" width="4.5" height="19.0" fill="rgba(239,83,80,0.5)"/>
<rect x="2247" y="1556.0" width="4.5" height="18.0" fill="rgba(239,83,80,0.5)"/>
<rect x="2254" y="1526.0" width="4.5" height="48.0" fill="rgba(38,166,154,0.5)"/>
<rect x="2260" y="1557.0" width="4.5" height="17.0" fill="rgba(38,166,154,0.5)"/>
<rect x="2267" y="1561.0" width="4.5" height="13.0" fill="rgba(38,166,154,0.5)"/>
<rect x="2273" y="1552.0" width="4.5" height="22.0" fill="rgba(38,166,154,0.5)"/>
<rect x="2280" y="1556.0" width="4.5" height="18.0" fill="rgba(239,83,80,0.5)"/>
<rect x="2286" y="1565.0" width="4.5" height="9.0" fill="rgba(239,83,80,0.5)"/>
<rect x="2293" y="1564.0" width="4.5" height="10.0" fill="rgba(38,166,154,0.5)"/>
<rect x="2299" y="1561.0" width="4.5" height="13.0" fill="rgba(38,166,154,0.5)"/>
<rect x="2306" y="1562.0" width="4.5" height="12.0" fill="rgba(38,166,154,0.5)"/>
<rect x="2312" y="1544.0" width="4.5" height="30.0" fill="rgba(38,166,154,0.5)"/>
<rect x="2318" y="1258.0" width="4.5" height="316.0" fill="rgba(239,83,80,0.5)"/>
<rect x="2325" y="1539.0" width="4.5" height="35.0" fill="rgba(38,166,154,0.5)"/>
<rect x="2331" y="1551.0" width="4.5" height="23.0" fill="rgba(38,166,154,0.5)"/>
<rect x="2338" y="1561.0" width="4.5" height="13.0" fill="rgba(239,83,80,0.5)"/>
<rect x="2344" y="1518.0" width="4.5" height="56.0" fill="rgba(239,83,80,0.5)"/>
</g>
<g clip-path="url(#pane)"><polyline points="16.0,935.7 22.0,902.3 29.0,992.9 35.0,1097.7 42.0,1093.0 48.0,1202.6 55.0,1250.3 61.0,1202.6 68.0,1288.4 74.0,1183.5 81.0,1216.9 87.0,1207.4 93.0,1145.4 100.0,1216.9 106.0,1231.2 113.0,1073.9 119.0,1097.7 126.0,1093.0 132.0,1097.7 139.0,1121.6 145.0,1112.0 152.0,1102.5 158.0,1126.3 165.0,1131.1 171.0,1116.8 178.0,1107.3 184.0,1121.6 191.0,1126.3 197.0,1112.0 204.0,1116.8 210.0,1126.3 216.0,1126.3 223.0,1126.3 229.0,1112.0 236.0,1112.0 242.0,1116.8 249.0,1116.8 255.0,1112.0 262.0,1126.3 268.0,1112.0 275.0,1116.8 281.0,1164.5 288.0,1207.4 294.0,1154.9 301.0,1135.9 307.0,1183.5 314.0,1135.9 320.0,1135.9 327.0,1131.1 333.0,1131.1 339.0,1131.1 346.0,1131.1 352.0,1140.6 359.0,1131.1 365.0,1140.6 372.0,1121.6 378.0,1140.6 385.0,1140.6 391.0,1126.3 398.0,1102.5 404.0,1088.2 411.0,1088.2 417.0,1073.9 424.0,1083.4 430.0,1073.9 437.0,1093.0 443.0,1126.3 450.0,1116.8 456.0,1093.0 462.0,1073.9 469.0,1112.0 475.0,1126.3 482.0,1107.3 488.0,1088.2 495.0,1088.2 501.0,1088.2 508.0,1112.0 514.0,1064.4 521.0,1078.7 527.0,1097.7 534.0,1112.0 540.0,1078.7 547.0,1064.4 553.0,1069.1 560.0,1064.4 566.0,1064.4 573.0,1050.1 579.0,1097.7 585.0,1121.6 592.0,1140.6 598.0,1145.4 605.0,1045.3 611.0,1059.6 618.0,1035.8 624.0,1097.7 631.0,1011.9 637.0,1011.9 644.0,1045.3 650.0,1035.8 657.0,1031.0 663.0,1040.5 670.0,1102.5 676.0,1102.5 683.0,1083.4 689.0,1064.4 696.0,1093.0 702.0,1059.6 709.0,1073.9 715.0,1040.5 721.0,1002.4 728.0,978.6 734.0,978.6 741.0,821.3 747.0,811.7 754.0,802.2 760.0,783.1 767.0,773.6 773.0,807.0 780.0,821.3 786.0,811.7 793.0,826.0 799.0,816.5 806.0,816.5 812.0,830.8 819.0,807.0 825.0,826.0 832.0,821.3 838.0,821.3 844.0,811.7 851.0,826.0 857.0,821.3 864.0,826.0 870.0,830.8 877.0,849.9 883.0,811.7 890.0,811.7 896.0,821.3 903.0,807.0 909.0,811.7 916.0,816.5 922.0,859.4 929.0,811.7 935.0,797.4 942.0,787.9 948.0,807.0 955.0,797.4 961.0,811.7 967.0,768.8 974.0,735.5 980.0,735.5 987.0,749.8 993.0,630.6 1000.0,687.8 1006.0,649.7 1013.0,687.8 1019.0,664.0 1026.0,711.6 1032.0,749.8 1039.0,754.5 1045.0,768.8 1052.0,759.3 1058.0,745.0 1065.0,745.0 1071.0,740.2 1078.0,768.8 1084.0,768.8 1090.0,768.8 1097.0,764.1 1103.0,768.8 1110.0,797.4 1116.0,792.7 1123.0,787.9 1129.0,802.2 1136.0,807.0 1142.0,730.7 1149.0,725.9 1155.0,582.9 1162.0,530.5 1168.0,540.0 1175.0,487.6 1181.0,459.0 1188.0,449.5 1194.0,449.5 1201.0,382.7 1207.0,320.8 1213.0,325.5 1220.0,325.5 1226.0,325.5 1233.0,335.1 1239.0,335.1 1246.0,339.8 1252.0,339.8 1259.0,330.3 1265.0,335.1 1272.0,316.0 1278.0,344.6 1285.0,320.8 1291.0,320.8 1298.0,325.5 1304.0,320.8 1311.0,325.5 1317.0,325.5 1324.0,320.8 1330.0,320.8 1336.0,325.5 1343.0,325.5 1349.0,239.7 1356.0,235.0 1362.0,239.7 1369.0,244.5 1375.0,244.5 1382.0,273.1 1388.0,277.9 1395.0,273.1 1401.0,273.1 1408.0,277.9 1414.0,287.4 1421.0,287.4 1427.0,287.4 1434.0,273.1 1440.0,273.1 1447.0,287.4 1453.0,277.9 1459.0,273.1 1466.0,273.1 1472.0,277.9 1479.0,273.1 1485.0,273.1 1492.0,258.8 1498.0,277.9 1505.0,292.2 1511.0,330.3 1518.0,287.4 1524.0,277.9 1531.0,277.9 1537.0,263.6 1544.0,235.0 1550.0,201.6 1557.0,358.9 1563.0,378.0 1570.0,368.4 1576.0,358.9 1582.0,363.7 1589.0,368.4 1595.0,358.9 1602.0,368.4 1608.0,368.4 1615.0,368.4 1621.0,373.2 1628.0,368.4 1634.0,363.7 1641.0,363.7 1647.0,354.1 1654.0,363.7 1660.0,358.9 1667.0,368.4 1673.0,363.7 1680.0,387.5 1686.0,425.6 1693.0,439.9 1699.0,430.4 1705.0,430.4 1712.0,397.0 1718.0,373.2 1725.0,358.9 1731.0,363.7 1738.0,358.9 1744.0,406.6 1751.0,416.1 1757.0,387.5 1764.0,401.8 1770.0,411.3 1777.0,449.5 1783.0,516.2 1790.0,535.3 1796.0,640.1 1803.0,602.0 1809.0,616.3 1816.0,621.1 1822.0,625.8 1828.0,654.4 1835.0,668.7 1841.0,640.1 1848.0,630.6 1854.0,659.2 1861.0,668.7 1867.0,697.3 1874.0,725.9 1880.0,754.5 1887.0,768.8 1893.0,721.2 1900.0,721.2 1906.0,692.6 1913.0,697.3 1919.0,711.6 1926.0,725.9 1932.0,740.2 1939.0,683.0 1945.0,635.4 1951.0,649.7 1958.0,697.3 1964.0,706.9 1971.0,644.9 1977.0,697.3 1984.0,668.7 1990.0,830.8 1997.0,768.8 2003.0,778.4 2010.0,783.1 2016.0,840.3 2023.0,830.8 2029.0,835.6 2036.0,911.8 2042.0,1126.3 2049.0,1188.3 2055.0,1169.2 2062.0,1183.5 2068.0,1240.7 2074.0,1302.7 2081.0,1274.1 2087.0,1288.4 2094.0,1245.5 2100.0,1245.5 2107.0,1221.7 2113.0,1216.9 2120.0,1236.0 2126.0,1259.8 2133.0,1269.3 2139.0,1274.1 2146.0,1302.7 2152.0,1340.8 2159.0,1326.5 2165.0,1307.5 2172.0,1412.3 2178.0,1450.5 2185.0,1426.6 2191.0,1398.0 2197.0,1421.9 2204.0,1417.1 2210.0,1393.3 2217.0,1417.1 2223.0,1340.8 2230.0,1355.1 2236.0,1359.9 2243.0,1364.7 2249.0,1374.2 2256.0,1321.8 2262.0,1297.9 2269.0,1288.4 2275.0,1274.1 2282.0,1288.4 2288.0,1307.5 2295.0,1278.9 2301.0,1259.8 2308.0,1255.0 2314.0,1250.3 2320.0,1278.9 2327.0,1264.6 2333.0,1240.7 2340.0,1250.3 2346.0,1269.3" fill="none" stroke="url(#lg)" stroke-width="3.9" stroke-linejoin="round" stroke-linecap="round"/></g>
<line x1="18" y1="1269.3" x2="2416" y2="1269.3" stroke="#2c96e8" stroke-width="2" stroke-dasharray="2 3.456" stroke-dashoffset="0.916"/>
<circle cx="2346.0" cy="1269.3" r="5.5" fill="#2c96e8"/>
<rect x="18" y="50" width="2524" height="1575" fill="none" stroke="#f5f5f6" stroke-width="2"/>
<g font-size="22" fill="#131722">
<text x="2431.70" y="114.46" font-size="22.4" fill="#131519" stroke="#131519" stroke-width="0.4" textLength="59.10" lengthAdjust="spacing">15.40</text>
<text x="2431.70" y="209.79" font-size="22.4" fill="#131519" stroke="#131519" stroke-width="0.4" textLength="59.10" lengthAdjust="spacing">15.20</text>
<text x="2431.70" y="305.12" font-size="22.4" fill="#131519" stroke="#131519" stroke-width="0.4" textLength="59.10" lengthAdjust="spacing">15.00</text>
<text x="2431.70" y="400.46" font-size="22.4" fill="#131519" stroke="#131519" stroke-width="0.4" textLength="59.10" lengthAdjust="spacing">14.80</text>
<text x="2431.70" y="495.79" font-size="22.4" fill="#131519" stroke="#131519" stroke-width="0.4" textLength="59.10" lengthAdjust="spacing">14.60</text>
<text x="2431.70" y="591.13" font-size="22.4" fill="#131519" stroke="#131519" stroke-width="0.4" textLength="59.10" lengthAdjust="spacing">14.40</text>
<text x="2431.70" y="686.46" font-size="22.4" fill="#131519" stroke="#131519" stroke-width="0.4" textLength="59.10" lengthAdjust="spacing">14.20</text>
<text x="2431.70" y="781.79" font-size="22.4" fill="#131519" stroke="#131519" stroke-width="0.4" textLength="59.10" lengthAdjust="spacing">14.00</text>
<text x="2431.70" y="877.13" font-size="22.4" fill="#131519" stroke="#131519" stroke-width="0.4" textLength="59.10" lengthAdjust="spacing">13.80</text>
<text x="2431.70" y="972.46" font-size="22.4" fill="#131519" stroke="#131519" stroke-width="0.4" textLength="59.10" lengthAdjust="spacing">13.60</text>
<text x="2431.70" y="1067.80" font-size="22.4" fill="#131519" stroke="#131519" stroke-width="0.4" textLength="59.10" lengthAdjust="spacing">13.40</text>
<text x="2431.70" y="1163.13" font-size="22.4" fill="#131519" stroke="#131519" stroke-width="0.4" textLength="59.10" lengthAdjust="spacing">13.20</text>
<text x="2431.70" y="1258.46" font-size="22.4" fill="#131519" stroke="#131519" stroke-width="0.4" textLength="59.10" lengthAdjust="spacing">13.00</text>
<text x="2431.70" y="1353.80" font-size="22.4" fill="#131519" stroke="#131519" stroke-width="0.4" textLength="59.10" lengthAdjust="spacing">12.80</text>
<text x="2431.70" y="1449.13" font-size="22.4" fill="#131519" stroke="#131519" stroke-width="0.4" textLength="59.10" lengthAdjust="spacing">12.60</text>
<text x="2431.70" y="1544.47" font-size="22.4" fill="#131519" stroke="#131519" stroke-width="0.4" textLength="59.10" lengthAdjust="spacing">12.40</text>
</g>
<rect x="2415" y="51" width="126" height="59.5" fill="#fff"/>
<rect x="2421.2" y="56.2" width="113.4" height="47.9" rx="9" ry="9" fill="#fff" stroke="#f0f0f1" stroke-width="2"/>
<text x="2437.50" y="88.50" font-size="22" fill="#131519" stroke="#131519" stroke-width="0.4" textLength="58.90" lengthAdjust="spacing">USDT</text>
<path d="M2416.2 1254H2497.9a4 4 0 0 1 4 4V1306.2a4 4 0 0 1 -4 4H2416.2Z" fill="#2c96e8"/>
<text x="2431.50" y="1278.00" font-size="22.4" fill="#fff" stroke="#fff" stroke-width="0.4" textLength="60.00" lengthAdjust="spacing">12.96</text>
<text x="2430.90" y="1303.00" font-size="22.4" fill="#fff" stroke="#fff" stroke-width="0.4" textLength="59.70" lengthAdjust="spacing" opacity="0.8">22:54</text>
<path d="M2416.2 1502.9H2528.9a4 4 0 0 1 4 4V1529.3a4 4 0 0 1 -4 4H2416.2Z" fill="#ee5250"/>
<text x="2431.50" y="1526.50" font-size="22.4" fill="#fff" stroke="#fff" stroke-width="0.4" textLength="92.00" lengthAdjust="spacing">153.29 K</text>
<circle cx="2345.9" cy="1551.5" r="20.8" fill="#fff"/>
<circle cx="2345.9" cy="1551.5" r="17.8" fill="#fff" stroke="#9c24b0" stroke-width="3"/>
<polygon points="2350.61,1542.01 2352.16,1543.17 2347.64,1551.05 2353.65,1551.05 2341.57,1561.70 2339.77,1560.60 2344.80,1552.98 2338.15,1552.98" fill="#9c24b0"/>
<g font-size="22.2" fill="#131519" stroke="#131519" stroke-width="0.4" text-anchor="middle">
<text x="178.0" y="1608.8">22</text>
<text x="385.0" y="1608.8">23</text>
<text x="592.0" y="1608.8">24</text>
<text x="799.0" y="1608.8">25</text>
<text x="1006.0" y="1608.8">26</text>
<text x="1213.0" y="1608.8">27</text>
<text x="1421.0" y="1608.8">28</text>
<text x="1628.0" y="1608.8">29</text>
<text x="1835.0" y="1608.8">30</text>
<text x="2042.0" y="1608.8" font-weight="bold">Dec</text>
<text x="2249.0" y="1608.8">2</text>
</g>
<text x="18.40" y="40.10" font-size="22.3" fill="#131519" stroke="#131519" stroke-width="0.4" textLength="677.30" lengthAdjust="spacing">ETHNews created with TradingView.com, Dec 02, 2025 11:37 UTC</text>
<text x="33.30" y="89.20" font-size="22" fill="#131519" stroke="#131519" stroke-width="0.4" textLength="317.50" lengthAdjust="spacing">AVAX / TetherUS · 45 · Binance</text>
<text x="362.50" y="89.20" font-size="22" fill="#2a95e9" stroke="#2a95e9" stroke-width="0.4" textLength="57.20" lengthAdjust="spacing">12.96</text>
<text x="432.30" y="89.20" font-size="22" fill="#2a95e9" stroke="#2a95e9" stroke-width="0.4" textLength="158.90" lengthAdjust="spacing">−0.04 (−0.31%)</text>
<text x="33.90" y="120.00" font-size="22" fill="#131519" stroke="#131519" stroke-width="0.4" textLength="105.10" lengthAdjust="spacing">Vol · AVAX</text>
<text x="151.70" y="120.00" font-size="22" fill="#ee5250" stroke="#ee5250" stroke-width="0.4" textLength="87.60" lengthAdjust="spacing">153.29 K</text>
<g fill="#111111">
<path d="M22 1666.1H43.5V1692.7H32.7V1676.9H22Z"/>
<circle cx="52.7" cy="1671.4" r="5.5"/>
<path d="M63.4 1666.1H76.1L65.1 1692.7H53.4Z"/>
</g>
<text x="87.46 106.52 120.22 144.86 167.09 175.8 199.09 220.75 247.12 257.9 279.56" y="1692.7" font-size="38.6" font-weight="bold" fill="#111111" stroke="#111111" stroke-width="0.4">TradingView</text>
</svg>
</body></html>
